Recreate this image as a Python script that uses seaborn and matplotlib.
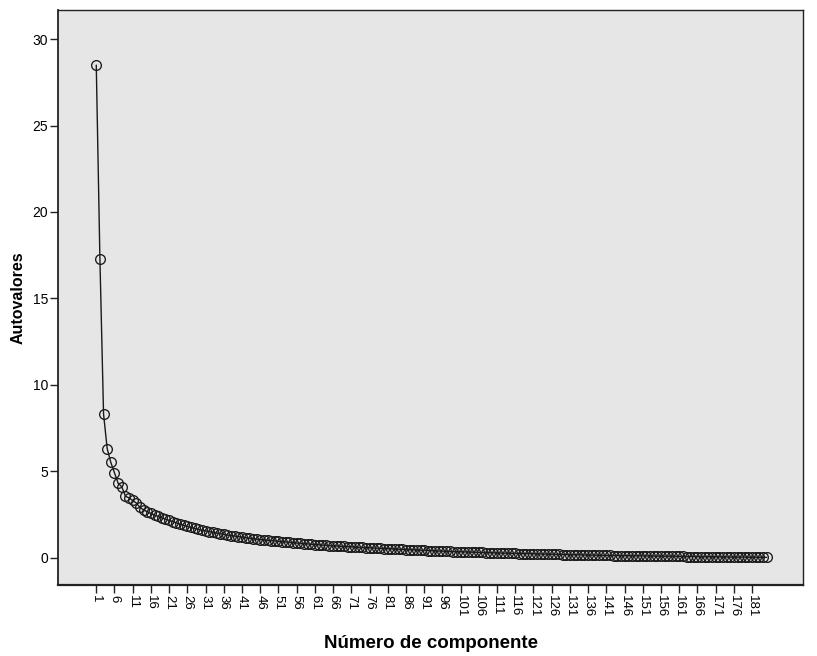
import numpy as np
import pandas as pd
import matplotlib
matplotlib.use("Agg")
import matplotlib.pyplot as plt
import seaborn as sns

# eigenvalues per component
eigenvalues = [
    28.5, 17.3, 8.3, 6.3, 5.5, 4.9, 4.3, 4.1, 3.55, 3.45,
    3.3, 3.15, 2.9, 2.75, 2.65, 2.55, 2.45, 2.38, 2.3, 2.22,
    2.15, 2.08, 2.0, 1.93, 1.86, 1.8, 1.74, 1.68, 1.63, 1.58,
    1.54, 1.5, 1.46, 1.42, 1.38, 1.34, 1.3, 1.27, 1.24, 1.21,
    1.18, 1.15, 1.12, 1.09, 1.06, 1.04, 1.02, 1.0, 0.98, 0.96,
    0.94, 0.92, 0.9, 0.88, 0.86, 0.84, 0.82, 0.8, 0.79, 0.77,
    0.75, 0.74, 0.72, 0.71, 0.69, 0.68, 0.67, 0.65, 0.64, 0.63,
    0.62, 0.6, 0.59, 0.58, 0.57, 0.56, 0.55, 0.54, 0.53, 0.52,
    0.51, 0.5, 0.49, 0.48, 0.47, 0.46, 0.45, 0.44, 0.43, 0.42,
    0.41, 0.4, 0.39, 0.385, 0.375, 0.37, 0.36, 0.35, 0.345, 0.34,
    0.33, 0.325, 0.32, 0.31, 0.305, 0.3, 0.29, 0.285, 0.28, 0.27,
    0.265, 0.26, 0.255, 0.25, 0.24, 0.235, 0.23, 0.225, 0.22, 0.215,
    0.21, 0.205, 0.2, 0.195, 0.19, 0.185, 0.18, 0.175, 0.17, 0.165,
    0.16, 0.158, 0.155, 0.15, 0.145, 0.14, 0.138, 0.135, 0.13, 0.125,
    0.122, 0.12, 0.115, 0.112, 0.11, 0.105, 0.1, 0.098, 0.095, 0.092,
    0.09, 0.087, 0.083, 0.08, 0.078, 0.075, 0.072, 0.07, 0.067, 0.065,
    0.062, 0.06, 0.057, 0.055, 0.052, 0.05, 0.048, 0.046, 0.044, 0.042,
    0.04, 0.038, 0.036, 0.034, 0.032, 0.03, 0.028, 0.026, 0.024, 0.022,
    0.02, 0.018, 0.016, 0.013, 0.01,
]
components = list(range(1, len(eigenvalues) + 1))
xtick_labels = list(range(1, 182, 5))
ytick_values = [0, 5, 10, 15, 20, 25, 30]

df = pd.DataFrame({"Componente": components, "Autovalor": eigenvalues})

sns.set_style("white")
plt.rcParams["font.family"] = ["Liberation Sans", "DejaVu Sans"]

fig = plt.figure(figsize=(8.17, 6.56), dpi=100)
ax = fig.add_axes([0.071, 0.108, 0.912, 0.877])
ax.set_facecolor("#e6e6e6")

sns.lineplot(data=df, x="Componente", y="Autovalor", ax=ax, color="#1a1a1a",
             linewidth=1.0, marker="o", markersize=7, markerfacecolor="none",
             markeredgecolor="#1a1a1a", markeredgewidth=0.95)

ax.set_xlim(-9.5, 195)
ax.set_ylim(-1.6, 31.7)
ax.set_xticks(xtick_labels)
ax.set_xticklabels([str(v) for v in xtick_labels], rotation=-90, fontsize=9.5)
ax.set_yticks(ytick_values)
ax.set_yticklabels([str(v) for v in ytick_values], fontsize=10)
ax.tick_params(axis="both", direction="out", length=5.5, width=1, color="#222222",
               labelcolor="black", bottom=True, left=True, pad=1.5)

for side in ["top", "right", "left", "bottom"]:
    ax.spines[side].set_color("#222222")
    ax.spines[side].set_linewidth(1.0)
ax.spines["bottom"].set_linewidth(1.6)
ax.spines["left"].set_linewidth(1.3)

ax.set_xlabel("Número de componente", fontsize=13.5, fontweight="bold",
              labelpad=13, color="black")
ax.set_ylabel("Autovalores", fontsize=11.5, fontweight="bold", labelpad=5,
              color="black")

fig.savefig("out.png", dpi=100)
